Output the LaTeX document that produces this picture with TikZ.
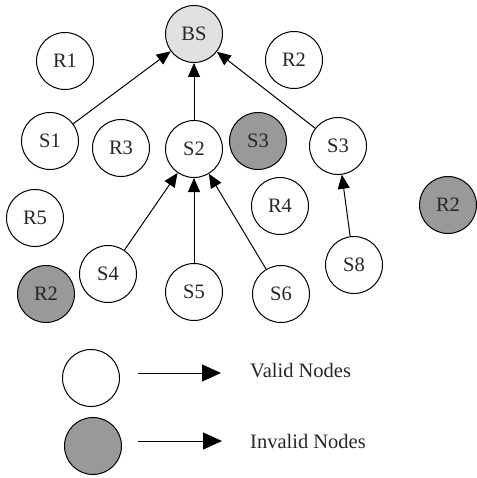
\documentclass[tikz,border=0pt]{standalone}
\usepackage{fontspec}
\setmainfont{Liberation Serif}
\usetikzlibrary{arrows.meta}
\definecolor{badgray}{HTML}{999999}
\definecolor{basegray}{HTML}{E1E1E1}
\begin{document}
\begin{tikzpicture}[x=1pt,y=-1pt,
  sensor/.style={circle,draw=black,line width=1pt,minimum size=57pt,inner sep=0pt,
    font=\fontsize{20.5}{24}\selectfont,text=black!85},
  validnode/.style={sensor,fill=white},
  invalidnode/.style={sensor,fill=badgray},
  basenode/.style={sensor,fill=basegray},
  link/.style={line width=1pt,-{Triangle[length=14pt,width=12pt]}},
  keyarrow/.style={line width=1pt,-{Triangle[length=19pt,width=17pt]}},
  keytext/.style={anchor=base west,font=\fontsize{20.5}{24}\selectfont,text=black!85,inner sep=0pt}]
\useasboundingbox (0,0) rectangle (476,478);
% network nodes
\node[basenode]    (bs)  at (194,34)  {BS};
\node[validnode]   (r1)  at (65,61)   {R1};
\node[validnode]   (r2a) at (294,60)  {R2};
\node[validnode]   (s1)  at (50,141)  {S1};
\node[validnode]   (r3)  at (121,148) {R3};
\node[validnode]   (s2)  at (194,149) {S2};
\node[invalidnode] (s3x) at (258,141) {S3};
\node[validnode]   (s3)  at (338,146) {S3};
\node[validnode]   (r4)  at (280,206) {R4};
\node[invalidnode] (r2c) at (448,205) {R2};
\node[validnode]   (r5)  at (35,218)  {R5};
\node[validnode]   (s4)  at (108,274) {S4};
\node[invalidnode] (r2b) at (46,294)  {R2};
\node[validnode]   (s5)  at (194,292) {S5};
\node[validnode]   (s6)  at (281,294) {S6};
\node[validnode]   (s8)  at (354,265) {S8};
% routing links towards the base station
\draw[link] (s1) -- (bs);
\draw[link] (s2) -- (bs);
\draw[link] (s3) -- (bs);
\draw[link] (s4) -- (s2);
\draw[link] (s5) -- (s2);
\draw[link] (s6) -- (s2);
\draw[link] (s8) -- (s3);
% legend
\node[validnode]   (kv) at (91,378) {};
\node[invalidnode] (ki) at (93,446) {};
\coordinate (kva) at (138,373);
\coordinate (kvb) at (221,373);
\coordinate (kia) at (138,441);
\coordinate (kib) at (222,441);
\draw[keyarrow] (kva) -- (kvb);
\draw[keyarrow] (kia) -- (kib);
\node[keytext] (lv) at (250,377) {Valid Nodes};
\node[keytext] (li) at (250,448) {Invalid Nodes};
\end{tikzpicture}
\end{document}
